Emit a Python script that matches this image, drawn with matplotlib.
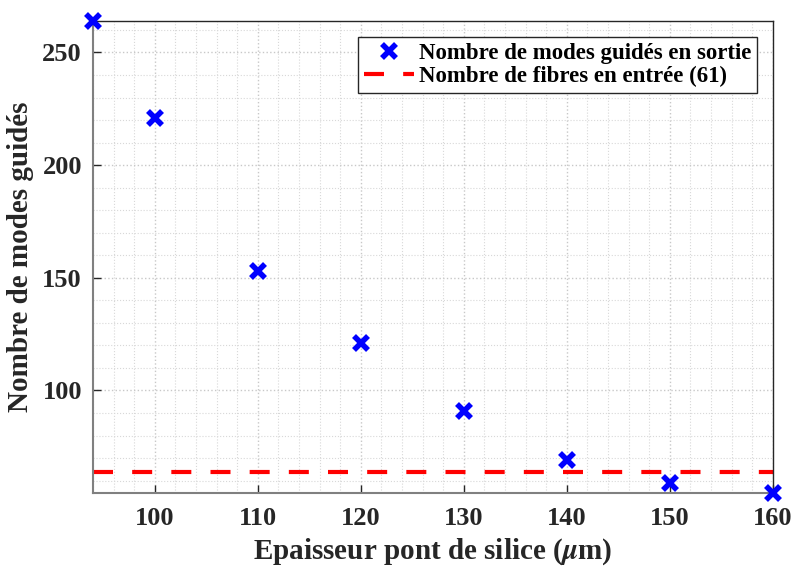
import numpy as np
import matplotlib
matplotlib.use("Agg")
import matplotlib.pyplot as plt
from matplotlib.ticker import MultipleLocator

plt.rcParams['font.family'] = ['Liberation Serif', 'DejaVu Serif']
plt.rcParams['font.weight'] = 'bold'
plt.rcParams['mathtext.fontset'] = 'stix'

epaisseur = [94, 100, 110, 120, 130, 140, 150, 160]
modes_guides = [264, 221, 153, 121, 91, 69, 59, 54.5]
niveau_fibres = 64

fig = plt.figure(figsize=(7.95, 5.66), dpi=100)
ax = fig.add_axes([0.117, 0.129, 0.855, 0.834])

ax.plot(epaisseur, modes_guides, linestyle='none', marker='x', color='blue',
        markersize=10, markeredgewidth=4, label='Nombre de modes guidés en sortie',
        clip_on=False, zorder=5)
ax.axhline(niveau_fibres, color='red', linewidth=3, linestyle=(0, (4.8, 4.6)),
           label='Nombre de fibres en entrée (61)')

ax.set_xlim(94, 160)
ax.set_ylim(54.5, 264)
ax.set_xticks([100, 110, 120, 130, 140, 150, 160])
ax.set_yticks([100, 150, 200, 250])
ax.xaxis.set_minor_locator(MultipleLocator(2))
ax.yaxis.set_minor_locator(MultipleLocator(10))

ax.grid(True, which='major', linestyle=':', color='#c8c8c8', linewidth=1)
ax.grid(True, which='minor', linestyle=':', color='#d8d8d8', linewidth=0.8)
ax.set_axisbelow(True)

ax.tick_params(which='major', direction='in', length=6, labelsize=19,
               colors='#262626', width=1)
ax.tick_params(which='minor', length=0)
ax.tick_params(axis='x', pad=10)
ax.tick_params(axis='y', pad=8)
for s in ax.spines.values():
    s.set_color('#262626')
    s.set_linewidth(1)
for s in ['left', 'bottom']:
    ax.spines[s].set_color('#808080')
    ax.spines[s].set_linewidth(1.5)

ax.set_xlabel(r'Epaisseur pont de silice ($\mu$m)', fontsize=21,
              fontweight='bold', color='#262626', labelpad=5)
ax.set_ylabel('Nombre de modes guidés', fontsize=21, fontweight='bold',
              color='#262626', labelpad=6)

leg = ax.legend(loc='upper right', fontsize=16.5, frameon=True, fancybox=False,
                edgecolor='#262626', framealpha=1, borderpad=0.25,
                handlelength=2.2, handletextpad=0.2, labelspacing=0.1,
                borderaxespad=0.7)
leg.get_frame().set_linewidth(1)

fig.savefig('out.png', dpi=100)
